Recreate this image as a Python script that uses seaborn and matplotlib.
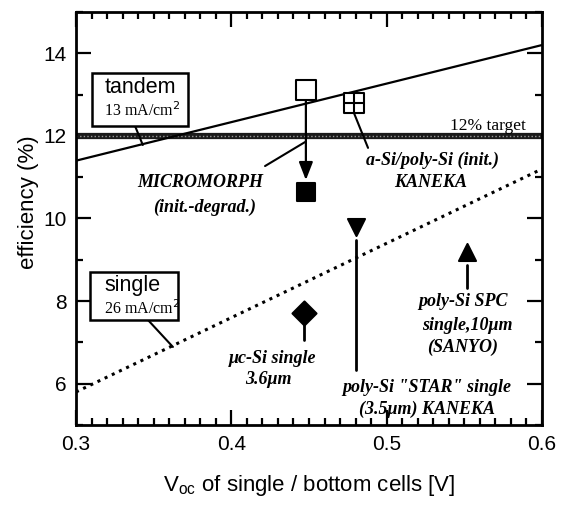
import matplotlib
matplotlib.use("Agg")
import matplotlib.pyplot as plt
from matplotlib.patches import Rectangle
from matplotlib.ticker import MultipleLocator
import seaborn as sns
import pandas as pd

# measured cells: open-circuit voltage (V) vs efficiency (%)
cell_names = ["micromorph init.", "micromorph degrad.", "a-Si/poly-Si init.",
              "poly-Si STAR", "poly-Si SPC", "uc-Si single"]
voc = [0.448, 0.448, 0.479, 0.480, 0.552, 0.447]
eff = [13.1, 10.65, 12.8, 9.8, 9.2, 7.7]
markers = ["s", "s", "s", "v", "^", "D"]
filled = [False, True, False, True, True, True]

# limiting-efficiency lines
tandem_voc = [0.3, 0.6]
tandem_eff = [11.4, 14.2]
single_voc = [0.3, 0.6]
single_eff = [5.8, 11.2]
target_eff = 12.0

sns.set_theme(style="white")
plt.rcParams["font.family"] = ["Liberation Sans", "DejaVu Sans"]
plt.rcParams["text.color"] = "black"
plt.rcParams["axes.labelcolor"] = "black"

fig = plt.figure(figsize=(5.72, 5.08), dpi=100)
ax = fig.add_axes([76 / 572, 83 / 508, 466 / 572, 413 / 508])

# 12 % target band
ax.axhline(target_eff, color="#1a1a1a", lw=4.5, zorder=2)
ax.axhline(target_eff, color="white", lw=1.0, ls=(0, (1, 1.6)), alpha=0.55, zorder=2)

tandem_df = pd.DataFrame({"voc": tandem_voc, "eff": tandem_eff})
single_df = pd.DataFrame({"voc": single_voc, "eff": single_eff})
sns.lineplot(data=tandem_df, x="voc", y="eff", ax=ax, color="black", lw=1.6, zorder=3)
sns.lineplot(data=single_df, x="voc", y="eff", ax=ax, color="black", lw=2.2,
             ls=(0, (1, 1.6)), zorder=3)

# degradation arrow for the micromorph cell
ax.annotate("", xy=(voc[1], eff[1] + 0.28), xytext=(voc[0], eff[0] - 0.15),
            arrowprops=dict(arrowstyle="-|>,head_length=0.9,head_width=0.35",
                            color="black", lw=1.6, shrinkA=0, shrinkB=0), zorder=4)

for x, y, m, f in zip(voc, eff, markers, filled):
    df = pd.DataFrame({"voc": [x], "eff": [y]})
    size = 190 if m == "s" and not f else 150
    sns.scatterplot(data=df, x="voc", y="eff", ax=ax, marker=m, s=size,
                    facecolor="black" if f else "white", edgecolor="black",
                    linewidth=1.5, zorder=5, legend=False)
# cross inside the a-Si/poly-Si square
ax.scatter([voc[2]], [eff[2]], marker="+", s=150, color="black", linewidths=1.5, zorder=6)

# leader lines
lead = dict(color="black", lw=1.5, zorder=3)
ax.plot([0.338, 0.343], [12.24, 11.78], **lead)
ax.plot([0.3464, 0.3624], [7.54, 6.89], **lead)
ax.plot([0.4217, 0.4474], [11.27, 11.85], **lead)
ax.plot([0.479, 0.488], [12.55, 11.71], **lead)
ax.plot([voc[5], voc[5]], [7.47, 7.06], color="black", lw=2, zorder=3)
ax.plot([voc[3], voc[3]], [9.48, 6.33], color="black", lw=2, zorder=3)
ax.plot([voc[4], voc[4]], [8.87, 8.32], color="black", lw=2, zorder=3)

# labelled boxes
for (x0, x1, y0, y1) in [(0.3103, 0.3721, 12.24, 13.52), (0.309, 0.3657, 7.54, 8.70)]:
    ax.add_patch(Rectangle((x0, y0), x1 - x0, y1 - y0, facecolor="white",
                           edgecolor="black", lw=1.8, zorder=6))
ax.text(0.3412, 13.17, "tandem", ha="center", va="center", fontsize=15.5, zorder=7)
ax.text(0.3425, 12.62, "13 mA/cm$^{2}$", ha="center", va="center", fontsize=11.5,
        family="Liberation Serif", zorder=7)
ax.text(0.3367, 8.38, "single", ha="center", va="center", fontsize=15.5, zorder=7)
ax.text(0.3425, 7.81, "26 mA/cm$^{2}$", ha="center", va="center", fontsize=11.5,
        family="Liberation Serif", zorder=7)

ann = dict(ha="center", va="center", fontsize=13, family="Liberation Serif",
           style="italic", weight="bold", zorder=7)
ax.text(0.3798, 10.86, "MICROMORPH", **ann)
ax.text(0.383, 10.28, "(init.-degrad.)", **ann)
ax.text(0.5292, 11.42, "a-Si/poly-Si (init.)", **ann)
ax.text(0.528, 10.86, "KANEKA", **ann)
ax.text(0.4262, 6.62, "\u03bcc-Si single", **ann)
ax.text(0.4236, 6.11, "3.6\u03bcm", **ann)
ax.text(0.526, 5.90, "poly-Si \"STAR\" single", **ann)
ax.text(0.526, 5.39, "(3.5\u03bcm) KANEKA", **ann)
ax.text(0.5491, 7.98, "poly-Si SPC", **ann)
ax.text(0.5517, 7.42, "single,10\u03bcm", **ann)
ax.text(0.5491, 6.89, "(SANYO)", **ann)
ax.text(0.5652, 12.24, "12% target", ha="center", va="center", fontsize=12.5,
        family="Liberation Serif", zorder=7)

ax.set_xlim(0.3, 0.6)
ax.set_ylim(5, 15)
ax.xaxis.set_major_locator(MultipleLocator(0.1))
ax.xaxis.set_minor_locator(MultipleLocator(0.01))
ax.yaxis.set_major_locator(MultipleLocator(2))
ax.yaxis.set_minor_locator(MultipleLocator(1))
ax.set_xticks([0.3, 0.4, 0.5, 0.6])
ax.set_xticklabels(["0.3", "0.4", "0.5", "0.6"])
ax.set_yticks([6, 8, 10, 12, 14])
ax.set_yticklabels(["6", "8", "10", "12", "14"])
ax.tick_params(which="both", direction="in", top=True, right=True,
               bottom=True, left=True, color="black", width=1.6, labelsize=15,
               labelcolor="black")
ax.tick_params(which="major", length=11, pad=7)
ax.tick_params(which="minor", length=5)
for s in ax.spines.values():
    s.set_color("black")
    s.set_linewidth(2)

ax.set_xlabel("V$_{\\mathregular{oc}}$ of single / bottom cells [V]", fontsize=16,
              labelpad=14)
ax.set_ylabel("efficiency (%)", fontsize=16)
ax.yaxis.set_label_coords(-0.08, 0.54)

fig.savefig("out.png", dpi=100)
